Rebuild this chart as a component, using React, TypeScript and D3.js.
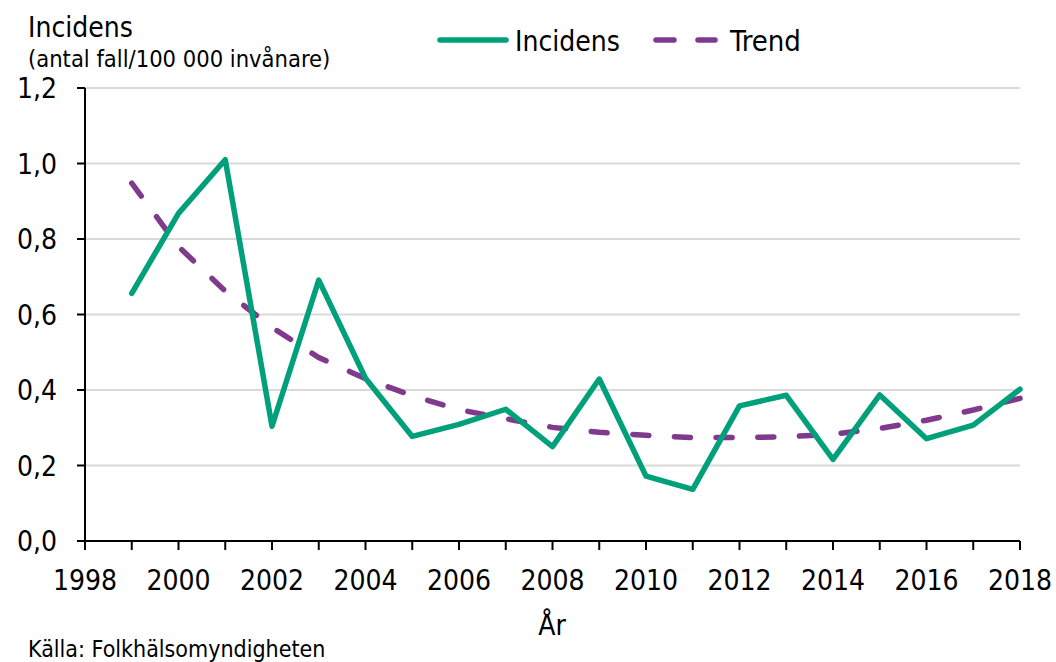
import React from "react";
import * as d3 from "d3";

const years = [1999, 2000, 2001, 2002, 2003, 2004, 2005, 2006, 2007, 2008, 2009, 2010, 2011, 2012, 2013, 2014, 2015, 2016, 2017, 2018];
const incidens = [0.656, 0.868, 1.01, 0.304, 0.691, 0.431, 0.277, 0.309, 0.349, 0.25, 0.429, 0.172, 0.137, 0.358, 0.386, 0.216, 0.387, 0.271, 0.307, 0.402];
const trend = [0.948, 0.78, 0.662, 0.566, 0.486, 0.43, 0.385, 0.348, 0.324, 0.301, 0.288, 0.28, 0.274, 0.274, 0.276, 0.283, 0.298, 0.32, 0.347, 0.378];
const yTicks = [0, 0.2, 0.4, 0.6, 0.8, 1.0, 1.2];
const xTickLabels = [1998, 2000, 2002, 2004, 2006, 2008, 2010, 2012, 2014, 2016, 2018];

const GREEN = "#00A07A";
const PURPLE = "#7F3A8E";
const FONT = "'DejaVu Sans Condensed', 'DejaVu Sans', sans-serif";

export default function App() {
  const W = 1056, H = 662;
  const x = d3.scaleLinear().domain([1998, 2018]).range([85, 1020]);
  const y = d3.scaleLinear().domain([0, 1.2]).range([541, 88]);
  const line = d3.line<number>().x((_, i) => x(years[i])).y((d) => y(d));
  const allYears = d3.range(1998, 2019);
  const fmt = (v: number) => v.toFixed(1).replace(".", ",");

  return (
    <svg width={W} height={H} style={{ position: "absolute", left: 0, top: 0 }} fontFamily={FONT}>
      <rect width={W} height={H} fill="#fff" />
      {yTicks.filter((t) => t > 0).map((t) => (
        <line key={t} x1={x(1998)} x2={x(2018)} y1={y(t)} y2={y(t)} stroke="#d9d9d9" strokeWidth={2} />
      ))}
      {/* axes */}
      <line x1={x(1998)} x2={x(1998)} y1={y(1.2)} y2={y(0)} stroke="#000" strokeWidth={2} />
      <line x1={77} x2={x(2018)} y1={y(0)} y2={y(0)} stroke="#000" strokeWidth={2} />
      {yTicks.map((t) => (
        <g key={t}>
          <line x1={77} x2={x(1998)} y1={y(t)} y2={y(t)} stroke="#000" strokeWidth={2} />
          <text x={57} y={y(t) + 10} textAnchor="end" fontSize={28} fill="#000">{fmt(t)}</text>
        </g>
      ))}
      {allYears.map((yr) => (
        <line key={yr} x1={x(yr)} x2={x(yr)} y1={y(0)} y2={y(0) + 9} stroke="#000" strokeWidth={2} />
      ))}
      {xTickLabels.map((yr) => (
        <text key={yr} x={x(yr)} y={590} textAnchor="middle" fontSize={28} fill="#000">{yr}</text>
      ))}
      {/* series */}
      <path d={line(trend) || ""} fill="none" stroke={PURPLE} strokeWidth={5.5} strokeDasharray="16 25.7" strokeLinecap="round" />
      <path d={line(incidens) || ""} fill="none" stroke={GREEN} strokeWidth={5.5} strokeLinejoin="round" strokeLinecap="round" />
      {/* titles */}
      <text x={28} y={37} fontSize={28} fill="#000">Incidens</text>
      <text x={28} y={67} fontSize={23.5} fill="#000">(antal fall/100 000 invånare)</text>
      <text x={552} y={635} textAnchor="middle" fontSize={28} fill="#000">År</text>
      <text x={28} y={657} fontSize={23} fill="#000">Källa: Folkhälsomyndigheten</text>
      {/* legend */}
      <line x1={440} x2={506} y1={40} y2={40} stroke={GREEN} strokeWidth={5.5} strokeLinecap="round" />
      <text x={515} y={51} fontSize={28} fill="#000">Incidens</text>
      <line x1={656} x2={674} y1={40} y2={40} stroke={PURPLE} strokeWidth={5.5} strokeLinecap="round" />
      <line x1={698} x2={715} y1={40} y2={40} stroke={PURPLE} strokeWidth={5.5} strokeLinecap="round" />
      <text x={730} y={51} fontSize={29} fill="#000">Trend</text>
    </svg>
  );
}
